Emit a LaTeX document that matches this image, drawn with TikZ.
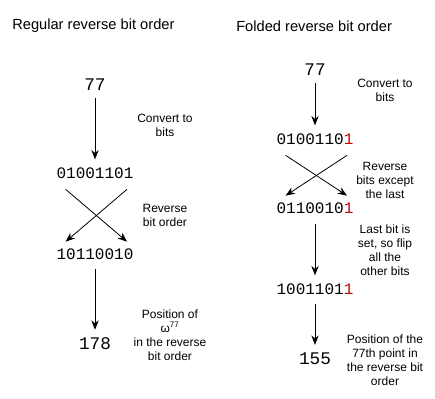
\documentclass[tikz,border=0pt]{standalone}
\usepackage{fontspec}
\setmainfont{Liberation Sans}
\setmonofont{Liberation Mono}
\usepackage{xcolor}
\usetikzlibrary{arrows.meta,positioning}
\definecolor{lastbit}{RGB}{204,0,0}

\begin{document}
\begin{tikzpicture}[x=0.75pt, y=-0.75pt, font=\fontsize{9}{10.5}\selectfont,
  title/.style={font=\fontsize{11}{13}\selectfont, inner sep=0pt},
  num/.style={font=\fontsize{12}{14}\ttfamily, inner sep=1pt},
  bignum/.style={num, font=\fontsize{13.3}{15}\ttfamily},
  note/.style={align=center, inner sep=0pt},
  arr/.style={-{Stealth[length=7pt, width=5.5pt]}, semithick}]
\useasboundingbox (0,0) rectangle (435,399);
% titles
\node[title, anchor=west] (tl) at (12,26) {Regular reverse bit order};
\node[title, anchor=west] (tr) at (236,26) {Folded reverse bit order};
% regular column
\node[bignum] (a1) at (95,85) {77};
\node[num] (a2) at (95,173) {01001101};
\node[num] (a3) at (95,254) {10110010};
\node[bignum] (a4) at (95,344) {178};
\draw[arr] ([yshift=-4pt]a1.south) -- ([yshift=5pt]a2.north);
\draw[arr] ([shift={(8pt,-7pt)}]a2.south west) -- ([shift={(-6pt,4pt)}]a3.north east);
\draw[arr] ([shift={(-6pt,-7pt)}]a2.south east) -- ([shift={(8pt,4pt)}]a3.north west);
\draw[arr] ([yshift=-6pt]a3.south) -- ([yshift=5pt]a4.north);
\node[note] (n1) at (165,125) {Convert to\\bits};
\node[note] (n2) at (165,215) {Reverse\\bit order};
\node[note] (n3) at (170,335) {Position of\\ω\textsuperscript{77}\\in the reverse\\bit order};
% folded column
\node[bignum] (b1) at (315,70) {77};
\node[num] (b2) at (315,139) {0100110\textcolor{lastbit}{1}};
\node[num] (b3) at (315,208) {0110010\textcolor{lastbit}{1}};
\node[num] (b4) at (315,289) {1001101\textcolor{lastbit}{1}};
\node[bignum] (b5) at (315,359) {155};
\draw[arr] ([yshift=-4pt]b1.south) -- ([yshift=5pt]b2.north);
\draw[arr] ([shift={(8pt,-7pt)}]b2.south west) -- ([shift={(-6pt,4pt)}]b3.north east);
\draw[arr] ([shift={(-6pt,-7pt)}]b2.south east) -- ([shift={(8pt,4pt)}]b3.north west);
\draw[arr] ([yshift=-7pt]b3.south) -- ([yshift=5pt]b4.north);
\draw[arr] ([yshift=-6pt]b4.south) -- ([yshift=5pt]b5.north);
\node[note] (m1) at (385,90) {Convert to\\bits};
\node[note] (m2) at (385,180) {Reverse\\bits except\\the last};
\node[note] (m3) at (385,250) {Last bit is\\set, so flip\\all the\\other bits};
\node[note] (m4) at (385,360) {Position of the\\77th point in\\the reverse bit\\order};
\end{tikzpicture}
\end{document}
